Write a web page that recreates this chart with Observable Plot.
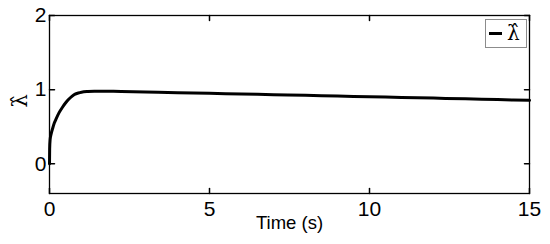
<!DOCTYPE html>
<html>
<head>
<meta charset="utf-8">
<script src="https://cdn.jsdelivr.net/npm/d3@7"></script>
<script src="https://cdn.jsdelivr.net/npm/@observablehq/plot@0.6"></script>
<style>
  body { margin: 0; background: #fff; }
  #wrap { position: relative; width: 550px; height: 244px; }
  #legend { position: absolute; left: 485px; top: 19px; width: 40px; height: 27px;
            border: 1px solid #8c8c8c; background: #fff; }
  #legend .swatch { position: absolute; left: 3px; top: 12px; width: 13px; height: 3px; background: #000; }
  #legend .lab { position: absolute; left: 21px; top: -2px; font-family: "DejaVu Serif", "Liberation Serif", serif;
                 font-size: 20px; line-height: 30px; color: #000; }
</style>
</head>
<body>
<div id="wrap"></div>
<script>
const time = [0, 0.005, 0.02, 0.05, 0.1, 0.15, 0.2, 0.3, 0.4, 0.5, 0.6, 0.7, 0.8, 0.9, 1.0, 1.2, 1.4, 1.7, 2, 3, 4, 5, 6, 7, 8, 9, 10, 11, 12, 13, 14, 15];
const lambdaHat = [0, 0.2, 0.33, 0.4, 0.48, 0.55, 0.6, 0.69, 0.76, 0.82, 0.87, 0.91, 0.94, 0.955, 0.966, 0.975, 0.978, 0.979, 0.977, 0.969, 0.96, 0.951, 0.942, 0.933, 0.924, 0.914, 0.905, 0.895, 0.886, 0.876, 0.866, 0.856];
const xTicks = [0, 5, 10, 15];
const yTicks = [0, 1, 2];
const xDomain = [0, 15];
const yDomain = [-0.4, 2];
const xLabel = "Time (s)";
const yLabel = "\u03bb\u0302";
const seriesName = "\u03bb\u0302";

const data = time.map((t, i) => ({t, v: lambdaHat[i]}));
const tickShape = {draw(ctx, l) { ctx.moveTo(0, 0); ctx.lineTo(0, -l); }};
const fmt = d => String(d);

const chart = Plot.plot({
  width: 550, height: 244,
  marginLeft: 49, marginRight: 21, marginTop: 15, marginBottom: 51,
  style: {fontFamily: "'Liberation Sans', Arial, sans-serif", background: "white", color: "black"},
  x: {domain: xDomain},
  y: {domain: yDomain},
  marks: [
    Plot.axisX(xTicks, {tickSize: 0, tickPadding: 8, fontSize: 21, tickFormat: fmt, label: null}),
    Plot.axisY(yTicks, {tickSize: 0, tickPadding: 3, fontSize: 21, tickFormat: fmt, label: null}),
    Plot.vector(xTicks, {x: d => d, y: yDomain[0], length: 5, rotate: 0, anchor: "start", shape: tickShape, stroke: "black"}),
    Plot.vector(xTicks, {x: d => d, y: yDomain[1], length: 5, rotate: 180, anchor: "start", shape: tickShape, stroke: "black"}),
    Plot.vector(yTicks, {x: xDomain[0], y: d => d, length: 5, rotate: 90, anchor: "start", shape: tickShape, stroke: "black"}),
    Plot.vector(yTicks, {x: xDomain[1], y: d => d, length: 5, rotate: -90, anchor: "start", shape: tickShape, stroke: "black"}),
    Plot.line(data, {x: "t", y: "v", stroke: "black", strokeWidth: 3, curve: "monotone-x"}),
    Plot.frame({stroke: "black", strokeWidth: 1.3}),
    Plot.text([xLabel], {text: d => d, frameAnchor: "bottom", dy: 35, fontSize: 18.5, fill: "black"}),
    Plot.text([yLabel], {text: d => d, frameAnchor: "left", dx: -29, dy: 3, rotate: -90, fontSize: 21,
                         fontFamily: "'DejaVu Serif', 'Liberation Serif', serif", fill: "black"})
  ]
});
const wrap = document.getElementById("wrap");
wrap.appendChild(chart);
const legend = document.createElement("div");
legend.id = "legend";
legend.innerHTML = `<div class="swatch"></div><div class="lab"></div>`;
legend.querySelector(".lab").textContent = seriesName;
wrap.appendChild(legend);
</script>
</body>
</html>
